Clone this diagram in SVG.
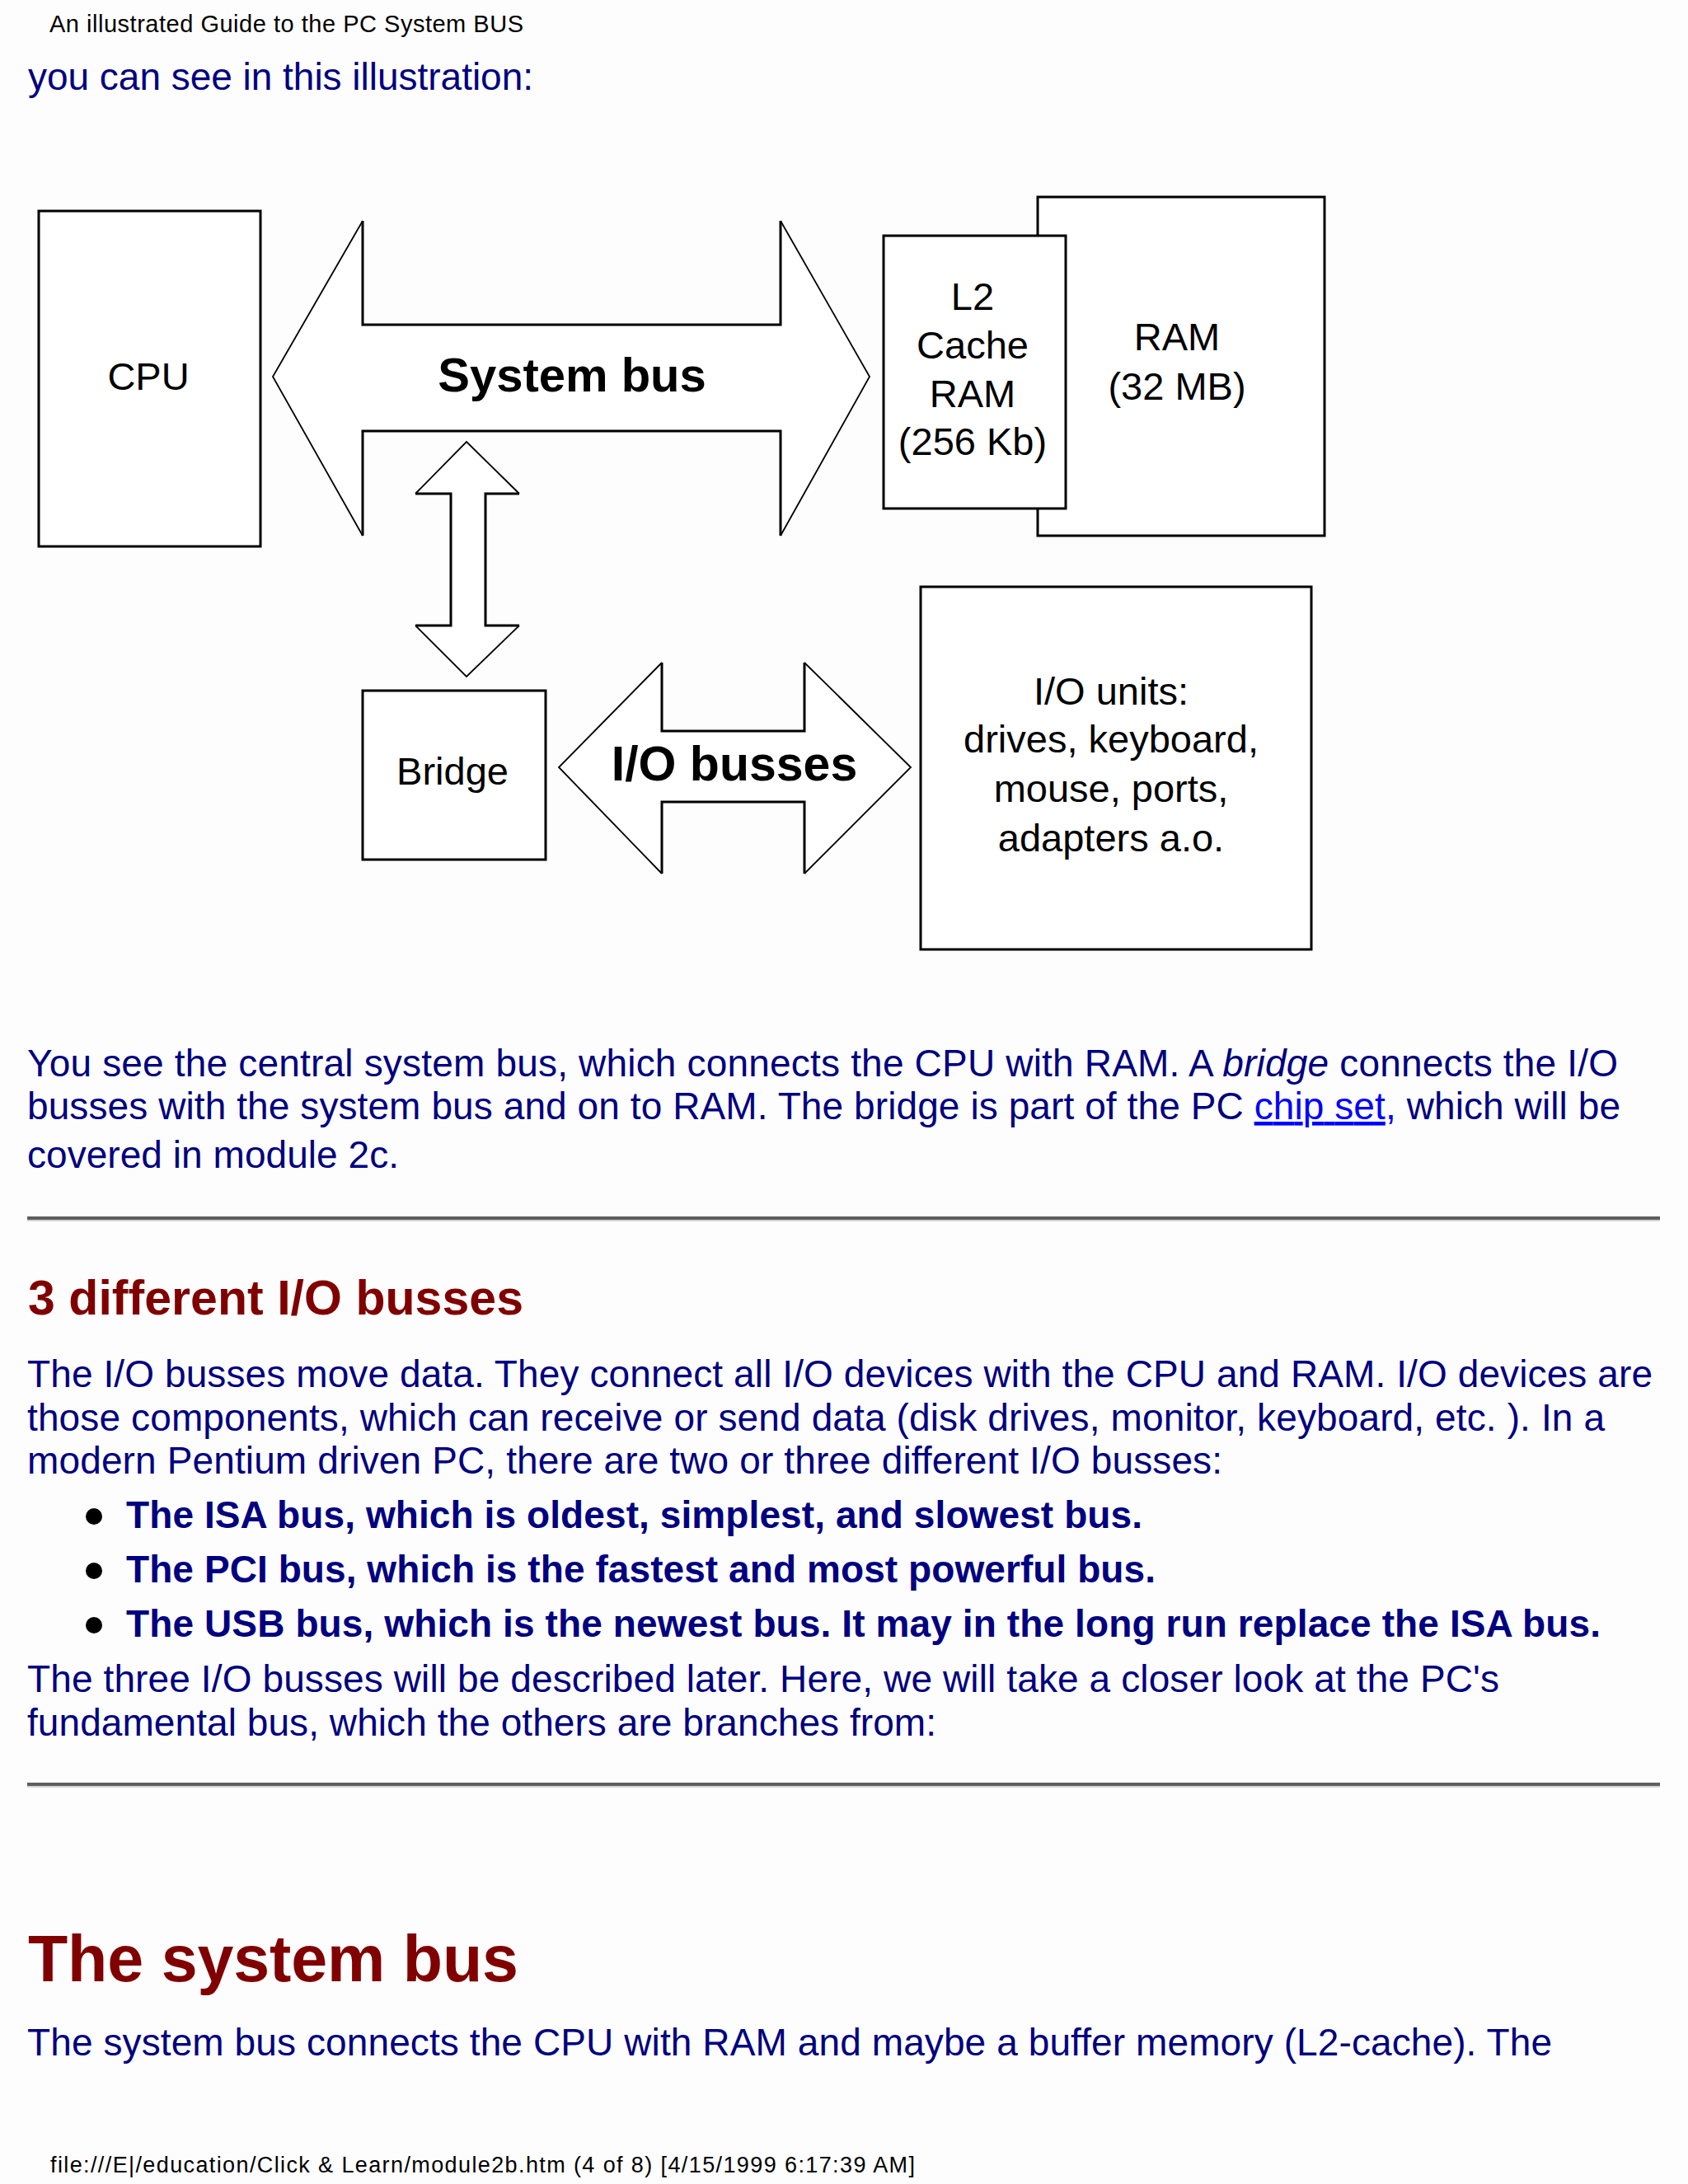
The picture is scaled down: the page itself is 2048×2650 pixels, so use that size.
<svg xmlns="http://www.w3.org/2000/svg" width="2048" height="2650" viewBox="0 0 2048 2650">
<style>
.bg{fill:#fdfdfd}
.box{fill:#ffffff;stroke:#000;stroke-width:3}
.arrfill{fill:#ffffff;stroke:none}
.straight{fill:none;stroke:#000;stroke-width:3;stroke-linejoin:miter}
.diag{fill:none;stroke:#000;stroke-width:1.8}
.dt{font-family:"Liberation Sans",Arial,sans-serif;font-size:47px;fill:#000;text-anchor:middle}
.db{font-family:"Liberation Sans",Arial,sans-serif;font-weight:bold;fill:#000;text-anchor:middle}
.body{font-family:"Liberation Sans",Arial,sans-serif;font-size:46px;fill:#000080}
.bold{font-weight:bold}
.head{font-family:"Liberation Sans",Arial,sans-serif;font-weight:bold;fill:#800000}
.small{font-family:"Liberation Sans",Arial,sans-serif;fill:#000}
.hrd{fill:#5e5e5e}
.hrl{fill:#d4d4d4}
</style>
<rect class="bg" x="0" y="0" width="2048" height="2650"/>

<text class="small" x="60" y="39" font-size="29" textLength="575">An illustrated Guide to the PC System BUS</text>
<text class="body" x="34" y="109" textLength="613">you can see in this illustration:</text>

<g id="connectors">
  <g id="system-bus">
    <polygon class="arrfill" points="331,457 440,268 440,394 947,394 947,268 1055,457 947,650 947,523 440,523 440,650"/>
    <path class="straight" d="M440,268 V394 H947 V268 M440,650 V523 H947 V650"/>
    <path class="diag" d="M440,268 L331,457 L440,650 M947,268 L1055,457 L947,650"/>
    <text class="db" x="694" y="475" font-size="58">System bus</text>
  </g>
  <g id="bridge-link">
    <polygon class="arrfill" points="566,536 630,599 589,599 589,759 630,759 566,821 504,759 547,759 547,599 504,599"/>
    <path class="straight" d="M504,599 H547 V759 H504 M630,599 H589 V759 H630"/>
    <path class="diag" d="M504,599 L566,536 L630,599 M504,759 L566,821 L630,759"/>
  </g>
  <g id="io-busses">
    <polygon class="arrfill" points="678,931 803,804 803,887 976,887 976,804 1105,931 976,1060 976,973 803,973 803,1060"/>
    <path class="straight" d="M803,804 V887 H976 V804 M803,1060 V973 H976 V1060"/>
    <path class="diag" d="M803,804 L678,931 L803,1060 M976,804 L1105,931 L976,1060"/>
    <text class="db" x="891" y="947" font-size="59">I/O busses</text>
  </g>
</g>

<g id="cpu">
  <rect class="box" x="47" y="256" width="269" height="407"/>
  <text class="dt" x="180" y="473" font-size="48">CPU</text>
</g>
<g id="ram">
  <rect class="box" x="1259" y="239" width="348" height="411"/>
  <text class="dt" x="1428" y="425">RAM</text>
  <text class="dt" x="1428" y="485">(32 MB)</text>
</g>
<g id="l2-cache">
  <rect class="box" x="1072" y="286" width="221" height="331"/>
  <text class="dt" x="1180" y="376">L2</text>
  <text class="dt" x="1180" y="435">Cache</text>
  <text class="dt" x="1180" y="494">RAM</text>
  <text class="dt" x="1180" y="552">(256 Kb)</text>
</g>
<g id="bridge">
  <rect class="box" x="440" y="838" width="222" height="205"/>
  <text class="dt" x="549" y="952">Bridge</text>
</g>
<g id="io-units">
  <rect class="box" x="1117" y="712" width="474" height="440"/>
  <text class="dt" x="1348" y="855">I/O units:</text>
  <text class="dt" x="1348" y="913">drives, keyboard,</text>
  <text class="dt" x="1348" y="973">mouse, ports,</text>
  <text class="dt" x="1348" y="1033">adapters a.o.</text>
</g>

<text class="body" x="33" y="1306" textLength="1930">You see the central system bus, which connects the CPU with RAM. A <tspan font-style="italic">bridge</tspan> connects the I/O</text>
<text class="body" x="33" y="1358" textLength="1933">busses with the system bus and on to RAM. The bridge is part of the PC <tspan fill="#0000ff" text-decoration="underline">chip set,</tspan> which will be</text>
<text class="body" x="33" y="1417" textLength="451">covered in module 2c.</text>

<rect class="hrd" x="33" y="1476" width="1981" height="4"/>
<rect class="hrl" x="33" y="1480" width="1981" height="2"/>

<text class="head" x="34" y="1595" font-size="59" textLength="601">3 different I/O busses</text>

<text class="body" x="33" y="1683" textLength="1972">The I/O busses move data. They connect all I/O devices with the CPU and RAM. I/O devices are</text>
<text class="body" x="33" y="1736" textLength="1914">those components, which can receive or send data (disk drives, monitor, keyboard, etc. ). In a</text>
<text class="body" x="33" y="1788" textLength="1450">modern Pentium driven PC, there are two or three different I/O busses:</text>

<g fill="#000">
  <circle cx="114" cy="1840" r="10"/>
  <circle cx="114" cy="1906" r="10"/>
  <circle cx="114" cy="1972" r="10"/>
</g>
<text class="body bold" x="153" y="1854" textLength="1233">The ISA bus, which is oldest, simplest, and slowest bus.</text>
<text class="body bold" x="153" y="1920" textLength="1249">The PCI bus, which is the fastest and most powerful bus.</text>
<text class="body bold" x="153" y="1986" textLength="1789">The USB bus, which is the newest bus. It may in the long run replace the ISA bus.</text>

<text class="body" x="33" y="2053" textLength="1786">The three I/O busses will be described later. Here, we will take a closer look at the PC's</text>
<text class="body" x="33" y="2106" textLength="1103">fundamental bus, which the others are branches from:</text>

<rect class="hrd" x="33" y="2163" width="1981" height="4"/>
<rect class="hrl" x="33" y="2167" width="1981" height="2"/>

<text class="head" x="34" y="2404" font-size="79" textLength="595">The system bus</text>

<text class="body" x="33" y="2494" textLength="1850">The system bus connects the CPU with RAM and maybe a buffer memory (L2-cache). The</text>

<text class="small" x="61" y="2636" font-size="27" textLength="1049">file:///E|/education/Click &amp; Learn/module2b.htm (4 of 8) [4/15/1999 6:17:39 AM]</text>
</svg>
